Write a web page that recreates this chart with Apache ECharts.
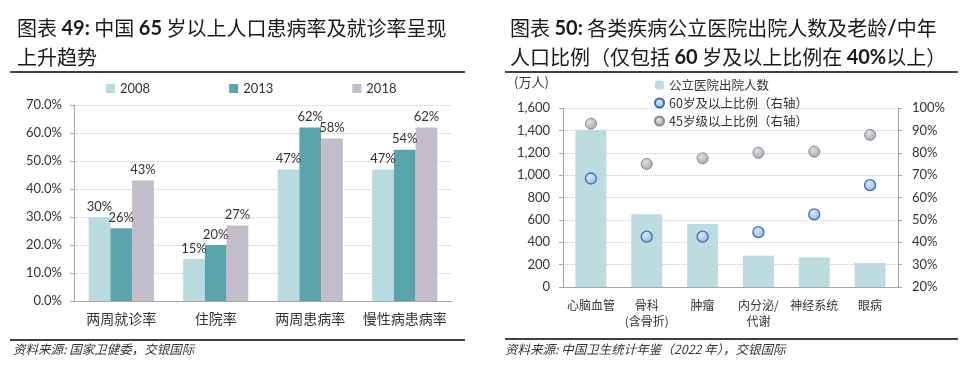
<!DOCTYPE html>
<html>
<head>
<meta charset="utf-8">
<script src="https://cdn.jsdelivr.net/npm/echarts@6/dist/echarts.min.js"></script>
<style>html,body{margin:0;padding:0;background:#fff;}#c{width:972px;height:368px;}</style>
</head>
<body>
<div id="c"></div>
<script>
// ---- Left chart data ----
const leftCategories = ['两周就诊率', '住院率', '两周患病率', '慢性病患病率'];
const leftYears = ['2008', '2013', '2018'];
const rate2008 = [30, 15, 47, 47];
const rate2013 = [26, 20, 62, 54];
const rate2018 = [43, 27, 58, 62];
const leftTicks = [0, 10, 20, 30, 40, 50, 60, 70];

// ---- Right chart data ----
const rightCategories = ['心脑血管', '骨科\n(含骨折)', '肿瘤', '内分泌/\n代谢', '神经系统', '眼病'];
const discharges = [1405, 650, 563, 280, 265, 215];
const share60 = [68.5, 42.5, 42.5, 44.5, 52.5, 65.5];
const share45 = [93, 75, 77.5, 80, 80.5, 88];
const rightSeriesNames = ['公立医院出院人数', '60岁及以上比例（右轴）', '45岁级以上比例（右轴）'];

const CJK = '"Noto Sans CJK SC", sans-serif';
const NUM = 'Lato, "Noto Sans CJK SC", sans-serif';
const TXT = '#333333';
const AX = '#a6a6a6';
const GRID = '#c8c8c8';

const chart = echarts.init(document.getElementById('c'), null, {renderer: 'canvas'});

const grad60 = {type: 'radial', x: 0.4, y: 0.35, r: 0.7, colorStops: [{offset: 0, color: '#dbe9fa'}, {offset: 1, color: '#8db3e2'}]};
const grad45 = {type: 'radial', x: 0.4, y: 0.35, r: 0.7, colorStops: [{offset: 0, color: '#e3dde4'}, {offset: 1, color: '#aaa1ab'}]};

const option = {
  animation: false,
  backgroundColor: '#ffffff',
  title: [
    {
      left: 12, top: 9,
      text: '图表 {b|49:} 中国 {b|65} 岁以上人口患病率及就诊率呈现\n上升趋势',
      textStyle: {fontSize: 20, fontWeight: 'normal', fontFamily: CJK, color: '#1a1a1a', lineHeight: 29,
        rich: {b: {fontSize: 20, fontWeight: 'bold', fontFamily: NUM, color: '#1a1a1a', lineHeight: 29}}}
    },
    {
      left: 505, top: 9,
      text: '图表 {b|50:} 各类疾病公立医院出院人数及老龄{b|/}中年\n人口比例（仅包括 {b|60} 岁及以上比例在 {b|40%}以上）',
      textStyle: {fontSize: 20, fontWeight: 'normal', fontFamily: CJK, color: '#1a1a1a', lineHeight: 29,
        rich: {b: {fontSize: 20, fontWeight: 'bold', fontFamily: NUM, color: '#1a1a1a', lineHeight: 29}}}
    }
  ],
  legend: [
    {
      data: leftYears, left: 101, top: 77, itemWidth: 9, itemHeight: 9, itemGap: 79,
      icon: 'rect',
      textStyle: {fontFamily: NUM, fontSize: 13, color: TXT}
    },
    {
      data: rightSeriesNames, orient: 'vertical', left: 649, top: 73, itemWidth: 9, itemHeight: 9, itemGap: 4,
      textStyle: {fontFamily: CJK, fontSize: 12.5, color: TXT, lineHeight: 14}
    }
  ],
  grid: [
    {left: 74, right: 520, top: 105, bottom: 67},
    {left: 563, right: 74, top: 108, bottom: 81}
  ],
  xAxis: [
    {
      gridIndex: 0, type: 'category', data: leftCategories,
      axisLine: {lineStyle: {color: AX}}, axisTick: {length: 5, lineStyle: {color: AX}},
      axisLabel: {interval: 0, fontFamily: CJK, fontSize: 14, color: TXT, margin: 11}
    },
    {
      gridIndex: 1, type: 'category', data: rightCategories,
      axisLine: {lineStyle: {color: AX}}, axisTick: {length: 5, lineStyle: {color: AX}},
      axisLabel: {interval: 0, fontFamily: CJK, fontSize: 12, color: TXT, margin: 10, lineHeight: 16}
    }
  ],
  yAxis: [
    {
      gridIndex: 0, type: 'value', min: leftTicks[0], max: leftTicks[leftTicks.length - 1], interval: 10,
      axisLine: {show: true, lineStyle: {color: AX}}, axisTick: {show: true, length: 4, lineStyle: {color: AX}},
      splitLine: {lineStyle: {color: GRID, type: 'dotted'}},
      axisLabel: {fontFamily: NUM, fontSize: 13, color: TXT, margin: 12, formatter: v => v.toFixed(1) + '%'}
    },
    {
      gridIndex: 1, type: 'value', min: 0, max: 1600, interval: 200,
      axisLine: {show: true, lineStyle: {color: AX}}, axisTick: {show: true, length: 4, lineStyle: {color: AX}},
      splitLine: {lineStyle: {color: GRID, type: 'dotted'}},
      axisLabel: {fontFamily: NUM, fontSize: 13, color: TXT, margin: 13, formatter: v => v.toLocaleString('en-US')}
    },
    {
      gridIndex: 1, type: 'value', position: 'right', min: 20, max: 100, interval: 10,
      axisLine: {show: true, lineStyle: {color: AX}}, axisTick: {show: true, length: 4, lineStyle: {color: AX}},
      splitLine: {show: false},
      axisLabel: {fontFamily: NUM, fontSize: 13, color: TXT, margin: 14, formatter: v => v + '%'}
    }
  ],
  series: [
    {
      name: '2008', type: 'bar', xAxisIndex: 0, yAxisIndex: 0, data: rate2008,
      barGap: '0%', barCategoryGap: '31%', itemStyle: {color: '#b9dade'},
      label: {show: true, position: 'top', formatter: '{c}%', fontFamily: NUM, fontSize: 13, color: TXT, distance: 4}
    },
    {
      name: '2013', type: 'bar', xAxisIndex: 0, yAxisIndex: 0, data: rate2013,
      barGap: '0%', barCategoryGap: '31%', itemStyle: {color: '#5ba3ad'},
      label: {show: true, position: 'top', formatter: '{c}%', fontFamily: NUM, fontSize: 13, color: TXT, distance: 4}
    },
    {
      name: '2018', type: 'bar', xAxisIndex: 0, yAxisIndex: 0, data: rate2018,
      barGap: '0%', barCategoryGap: '31%', itemStyle: {color: '#c3bcc9'},
      label: {show: true, position: 'top', formatter: '{c}%', fontFamily: NUM, fontSize: 13, color: TXT, distance: 4}
    },
    {
      name: rightSeriesNames[0], type: 'bar', xAxisIndex: 1, yAxisIndex: 1, data: discharges,
      barWidth: 31, itemStyle: {color: '#bcdce0'}
    },
    {
      name: rightSeriesNames[1], type: 'scatter', xAxisIndex: 1, yAxisIndex: 2, data: share60,
      symbol: 'circle', symbolSize: 11,
      itemStyle: {color: grad60, borderColor: '#3c6eaf', borderWidth: 1.3, opacity: 1}
    },
    {
      name: rightSeriesNames[2], type: 'scatter', xAxisIndex: 1, yAxisIndex: 2, data: share45,
      symbol: 'circle', symbolSize: 11,
      itemStyle: {color: grad45, borderColor: '#8d8590', borderWidth: 1, opacity: 1}
    }
  ],
  graphic: [
    {type: 'line', shape: {x1: 10, y1: 72, x2: 465, y2: 72}, style: {stroke: '#000', lineWidth: 1.5}},
    {type: 'line', shape: {x1: 505, y1: 72, x2: 958, y2: 72}, style: {stroke: '#000', lineWidth: 1.5}},
    {type: 'line', shape: {x1: 10, y1: 340, x2: 465, y2: 340}, style: {stroke: '#000', lineWidth: 1.5}},
    {type: 'line', shape: {x1: 505, y1: 339, x2: 958, y2: 339}, style: {stroke: '#000', lineWidth: 1.5}},
    {type: 'text', left: 13, top: 343, style: {text: '资料来源: 国家卫健委，交银国际', font: 'italic 12.5px "Noto Sans CJK SC"', fill: '#333'}},
    {type: 'text', left: 505, top: 343, style: {text: '资料来源: 中国卫生统计年鉴（2022 年），交银国际', font: 'italic 12.5px "Noto Sans CJK SC"', fill: '#333'}},
    {type: 'text', left: 514, top: 76, style: {text: '(万人)', font: '13px "Noto Sans CJK SC"', fill: '#333'}}
  ]
};

chart.setOption(option);
</script>
</body>
</html>
